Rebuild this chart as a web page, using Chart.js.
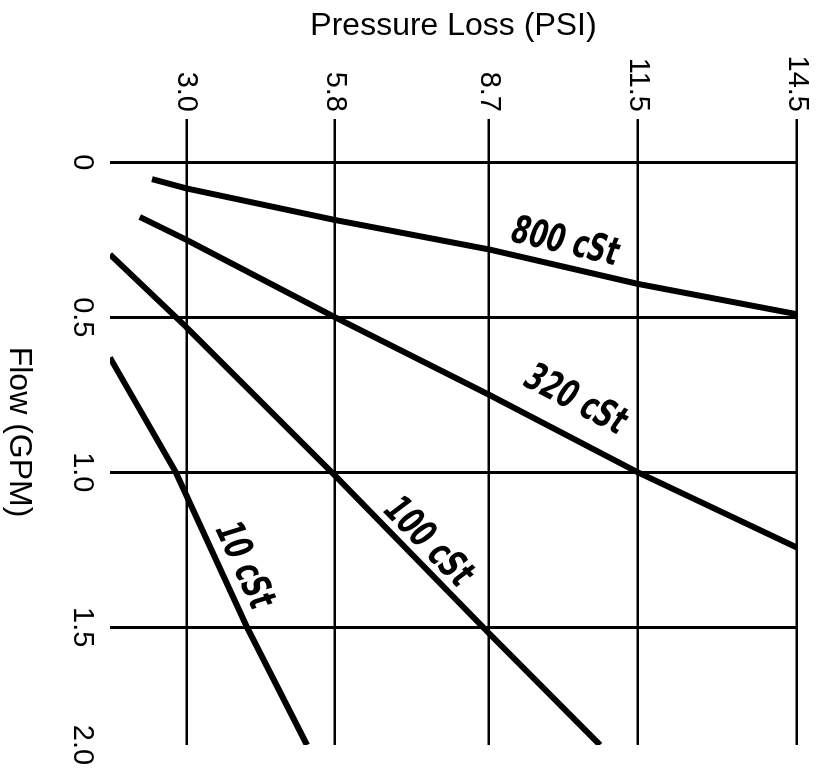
<!DOCTYPE html>
<html>
<head>
<meta charset="utf-8">
<script src="https://cdn.jsdelivr.net/npm/chart.js@4.4.0/dist/chart.umd.min.js"></script>
<style>
html,body{margin:0;padding:0;background:#fff;overflow:hidden;width:817px;height:770px;}
#wrap{position:absolute;left:0;top:0;width:770px;height:817px;transform-origin:0 0;transform:translate(817px,0) rotate(90deg);background:#fff;}
canvas{display:block;}
</style>
</head>
<body>
<div id="wrap"><canvas id="c" width="770" height="817"></canvas></div>
<script>
// ---- data (flow in GPM, pressure loss in PSI) ----
const seriesNames = ['800 cSt', '320 cSt', '100 cSt', '10 cSt'];

const pressure800 = [2.35, 3.0, 5.8, 8.7, 11.5, 14.5];
const flow800     = [0.054, 0.084, 0.186, 0.281, 0.392, 0.49];

const pressure320 = [2.12, 3.0, 5.8, 8.7, 11.5, 14.5];
const flow320     = [0.176, 0.25, 0.5, 0.75, 1.0, 1.243];

const pressure100 = [1.56, 3.0, 5.8, 8.7, 10.79];
const flow100     = [0.297, 0.532, 1.011, 1.52, 1.88];

const pressure10  = [1.56, 2.80, 4.14, 5.27];
const flow10      = [0.63, 1.0, 1.5, 1.88];

const pressureTicks      = [3.0, 5.8, 8.7, 11.5, 14.5];
const pressureTickLabels = ['3.0', '5.8', '8.7', '11.5', '14.5'];
const flowTicks          = [0, 0.5, 1.0, 1.5, 2.0];
const flowTickLabels     = ['0', '0.5', '1.0', '1.5', '2.0'];

const flowRange     = [-0.14, 1.88];
const pressureRange = [1.56, 14.5];

// label anchors: pressure along each curve where its name is written
const labelPressure = [10.03, 10.02, 7.28, 3.69];

// ---- build datasets ----
const seriesP = [pressure800, pressure320, pressure100, pressure10];
const seriesF = [flow800, flow320, flow100, flow10];
const datasets = seriesNames.map((name, i) => ({
  label: name,
  data: seriesP[i].map((p, k) => ({x: seriesF[i][k], y: p})),
  showLine: true,
  borderColor: '#000',
  backgroundColor: '#000',
  borderWidth: 6,
  pointRadius: 0,
  tension: 0,
  borderCapStyle: 'butt'
}));

const labelOffsets = [23, 34, 19, 22];

const curveLabels = {
  id: 'curveLabels',
  afterDatasetsDraw(chart) {
    const {ctx, scales: {x, y}} = chart;
    ctx.save();
    const fam = "'Liberation Sans Narrow', 'DejaVu Sans Condensed', 'DejaVu Sans', sans-serif";
    ctx.font = 'italic bold 100px ' + fam;
    const w100 = ctx.measureText('800 cSt').width;
    const size = Math.round(100 * 118 / w100);
    ctx.font = 'italic bold ' + size + 'px ' + fam;
    ctx.fillStyle = '#000';
    ctx.textAlign = 'center';
    ctx.textBaseline = 'middle';
    const interp = (P, F, p) => {
      for (let k = 0; k < P.length - 1; k++) {
        if (p >= P[k] && p <= P[k + 1]) {
          const t = (p - P[k]) / (P[k + 1] - P[k]);
          return F[k] + t * (F[k + 1] - F[k]);
        }
      }
      return F[F.length - 1];
    };
    seriesNames.forEach((name, i) => {
      const P = seriesP[i], F = seriesF[i];
      const p = labelPressure[i];
      const px = x.getPixelForValue(interp(P, F, p));
      const py = y.getPixelForValue(p);
      const p1 = p - 0.3, p2 = p + 0.3;
      const ax = x.getPixelForValue(interp(P, F, p1)), ay = y.getPixelForValue(p1);
      const bx = x.getPixelForValue(interp(P, F, p2)), by = y.getPixelForValue(p2);
      const ang = Math.atan2(by - ay, bx - ax);
      ctx.save();
      ctx.translate(px, py);
      ctx.rotate(ang);
      ctx.translate(0, -labelOffsets[i]);
      ctx.scale(0.92, 1.25);
      ctx.fillText(name, 0, 0);
      ctx.restore();
    });
    ctx.restore();
  }
};

const whiteBg = {
  id: 'whiteBg',
  beforeDraw(chart) {
    const {ctx, width, height} = chart;
    ctx.save();
    ctx.fillStyle = '#fff';
    ctx.fillRect(0, 0, width, height);
    ctx.restore();
  }
};

Chart.defaults.color = '#000';
Chart.defaults.font.family = "'Liberation Sans', Arial, Helvetica, sans-serif";

new Chart(document.getElementById('c'), {
  type: 'scatter',
  data: {datasets},
  plugins: [whiteBg, curveLabels],
  options: {
    responsive: false,
    animation: false,
    devicePixelRatio: 1,
    layout: {padding: {top: 20, right: 25, bottom: 0, left: 0}},
    plugins: {legend: {display: false}, tooltip: {enabled: false}},
    scales: {
      x: {
        type: 'linear',
        position: 'bottom',
        min: flowRange[0],
        max: flowRange[1],
        border: {display: false},
        grid: {
          color: (c) => (c.index === flowTicks.length - 1 ? 'rgba(0,0,0,0)' : '#000'),
          lineWidth: 3,
          drawTicks: false
        },
        afterBuildTicks: (s) => { s.ticks = flowTicks.map(v => ({value: Math.min(v, flowRange[1])})); },
        afterFit: (s) => { s.height = 110; s.paddingLeft = 0; s.paddingRight = 0; },
        ticks: {
          autoSkip: false,
          maxRotation: 0,
          minRotation: 0,
          padding: 11,
          font: {size: 29},
          callback: (v, i) => flowTickLabels[i]
        },
        title: {display: true, text: 'Flow (GPM)', font: {size: 32}, padding: {top: 0, bottom: 0}}
      },
      y: {
        type: 'linear',
        position: 'left',
        min: pressureRange[0],
        max: pressureRange[1],
        border: {display: false},
        grid: {color: '#000', lineWidth: 2.5, drawTicks: false},
        afterBuildTicks: (s) => { s.ticks = pressureTicks.map(v => ({value: v})); },
        afterFit: (s) => { s.width = 119; s.paddingTop = 0; s.paddingBottom = 0; },
        ticks: {
          autoSkip: false,
          padding: 7,
          font: {size: 29},
          callback: (v, i) => pressureTickLabels[i]
        },
        title: {display: true, text: 'Pressure Loss (PSI)', font: {size: 32}, padding: {top: 7, bottom: 0}}
      }
    }
  }
});
</script>
</body>
</html>
